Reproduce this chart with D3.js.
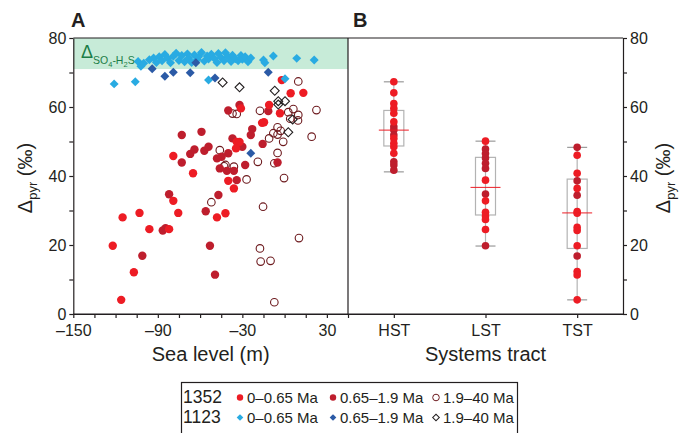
<!DOCTYPE html>
<html>
<head>
<meta charset="utf-8">
<script src="https://cdn.jsdelivr.net/npm/d3@7"></script>
<style>
  body { margin: 0; background: #fff; }
  svg { display: block; font-family: "Liberation Sans", Arial, Helvetica, sans-serif; }
  .axis text { font-size: 16px; fill: #231f20; }
  .axis path, .axis line { stroke: #231f20; stroke-width: 1.2; }
</style>
</head>
<body>
<svg id="chart"></svg>
<script>
"use strict";

/*
*  DATA
*/

// panel A: [sea level (m), delta pyr (permil)]
var site1352Young = [
  [-116, 4.1], [-107, 12.1], [-122, 19.8], [-96, 24.6], [-82, 24.6], [-115, 28], [-103, 29.3],
  [-75.5, 29.3], [-79, 32.8], [-65, 40.8], [-48, 28], [-42, 29.2], [-36, 36.4], [-40, 38.6],
  [-79, 45.8], [-34, 49.9], [-32, 49.9], [-34.5, 48], [-31, 59.6], [-11, 60.6], [-3.3, 58.2],
  [-14.6, 55.6], [-16, 55.4], [4.3, 64], [13.3, 64.1], [-2, 67.8]
];
var site1352Mid = [
  [-82, 34.7], [-47, 34.5], [-56, 29.8], [-53, 19.8], [-101, 16.9], [-49.4, 11.4], [-86.5, 24.2],
  [-84.5, 24.9], [-73, 51.9], [-59, 52.8], [-67, 46.4], [-64, 47.7], [-57, 47.3], [-54, 48.5],
  [-73, 43.9], [-32, 60.6], [-40, 59], [-11.6, 58.8], [-23, 53.6], [-24, 51.9], [-37, 50.9],
  [-30, 48.5], [-15.6, 49.3], [-40, 46.6], [-44.7, 45.6], [-48, 45.1], [-46, 42.2], [-41, 41.5],
  [-36, 41.5], [-28, 43.2], [-34, 38.8], [-5, 43.9]
];
var site1352Old = [
  [-52, 32.4], [-15.3, 31.1], [-17.5, 19], [-17, 15.2], [-10, 15.4], [10.2, 22], [-7.3, 3.4],
  [-27, 39], [-0.4, 39.4], [-46, 47.5], [-37, 58.1], [-34, 58], [-17.5, 58.9], [2.6, 58.5],
  [6.2, 59.4], [9.7, 57.7], [9.5, 56.1], [4, 56.6], [22.6, 59.1], [-5, 54.1], [-2.8, 53.1],
  [-8, 52.4], [-5, 52], [-1, 49.9], [-11, 50.9], [19.2, 51.4], [-19, 44.1], [-7.3, 43.7],
  [-42, 43.2], [-36, 42.7], [-43, 42.8], [-5, 46.7], [9.7, 67.4]
];
var site1123Young = [
  [-121, 66.7], [-106, 67.3], [-54, 67.8], [0.3, 68.2],
  [-104, 73.2], [-102, 71.8], [-100, 72.7], [-96, 73.7], [-93, 74.2], [-91, 72.9], [-89, 74.6],
  [-87, 73.4], [-85, 75.2], [-83, 74.1], [-81, 72.8], [-79, 74.7], [-77, 75.6], [-75, 73.5],
  [-73, 74.9], [-71, 73.1], [-69, 75.4], [-68, 74.2], [-66, 72.9], [-64, 75.1], [-62, 73.8],
  [-61, 74.6], [-59, 75.8], [-57, 73.3], [-55, 74.8], [-54, 73.9], [-52, 75.3], [-50, 74.1],
  [-48, 72.9], [-47, 75.5], [-45, 74.3], [-43, 73.4], [-42, 75.7], [-40, 74.6], [-38, 73.2],
  [-37, 75], [-35, 74], [-33, 73.4], [-31, 74.9], [-30, 73.8], [-28, 74.6], [-26, 73.1],
  [-24, 74.2], [-15, 73.6], [-14, 72.8], [-8, 74.8], [8.6, 74.1], [21, 73.6]
];
var site1123Mid = [
  [-94, 71.1], [-85, 68.9], [-79, 70.1], [-67, 69.9], [-63, 72.8], [-49.4, 68.4], [-11.6, 70.1], [-24, 46.6]
];
var site1123Old = [
  [-44, 67.1], [-32, 65.7], [-7, 64.7], [-4.5, 61.7], [0.3, 61.7], [-4.5, 60.7], [5.7, 56.4], [2.6, 52.7]
];

var bandRange = [71, 80];

// panel B
var tracts = ["HST", "LST", "TST"];
var tractBright = [
  [67.3, 64.1, 61, 59.6, 58.2, 55.7, 50.9, 49.5, 48.5, 46.6],
  [50.1, 38.8, 32.8, 29.5, 28.4, 27.4, 24.5],
  [46, 40.8, 36.4, 29.7, 29.2, 25.1, 24.2, 19.8, 12.3, 11.3, 4.1]
];
var tractDark = [
  [54.3, 53.3, 51.9, 44.1, 43.2, 41.7],
  [47.8, 46.5, 45.2, 43.7, 42.2, 34.8, 19.8],
  [48.3, 38.6, 34.4, 16.8]
];
var boxLow = [48.7, 28.7, 19];
var boxHigh = [59, 45.4, 39.1];
var boxMean = [53.3, 36.7, 29.3];
var whiskerLow = [41.2, 19.7, 4.1];
var whiskerHigh = [67.3, 50.1, 48.3];

var xTicksA = d3.range(-150, 46, 15);
var xLabelsA = [-150, -90, -30, 30];
var yTicks = d3.range(0, 81, 10);
var yLabels = [0, 20, 40, 60, 80];

/*
*  COLOURS
*/
var RED = "#ed1c24", DARKRED = "#be1e2d", MAROON = "#6d1a1e",
    LIGHTBLUE = "#29abe2", DARKBLUE = "#2b5aa6", INK = "#231f20";

/*
*  DRAW
*/
var width = 681, height = 433;
var plotTop = 38, plotBottom = 314, plotLeft = 73.3, plotMid = 348, plotRight = 623;

var svg = d3.select("#chart").attr("width", width).attr("height", height);

var y = d3.scaleLinear().domain([0, 80]).range([plotBottom, plotTop]);
var xA = d3.scaleLinear().domain([-150, 45]).range([plotLeft, plotMid]);
var xB = d3.scalePoint().domain(tracts).range([plotMid, plotRight]).padding(0.5);

// green band
svg.append("rect")
  .attr("x", plotLeft).attr("width", plotMid - plotLeft)
  .attr("y", y(bandRange[1])).attr("height", y(bandRange[0]) - y(bandRange[1]))
  .attr("fill", "#c7ebd8");

// axes
var fmt = function (d) { return d < 0 ? "\u2013" + Math.abs(d) : String(d); };

svg.append("g").attr("class", "axis").attr("transform", "translate(" + plotLeft + ",0)")
  .call(d3.axisLeft(y).tickValues(yTicks).tickSize(4).tickSizeOuter(0)
    .tickFormat(function (d) { return yLabels.indexOf(d) >= 0 ? d : ""; }));

svg.append("g").attr("class", "axis").attr("transform", "translate(" + plotRight + ",0)")
  .call(d3.axisRight(y).tickValues(yTicks).tickSize(4).tickSizeOuter(0)
    .tickFormat(function (d) { return yLabels.indexOf(d) >= 0 ? d : ""; }));

svg.append("g").attr("class", "axis").attr("transform", "translate(0," + plotBottom + ")")
  .call(d3.axisBottom(xA).tickValues(xTicksA).tickSize(4).tickSizeOuter(0)
    .tickFormat(function (d) { return xLabelsA.indexOf(d) >= 0 ? fmt(d) : ""; }))
  .selectAll("text").attr("dy", "0.95em");

svg.append("g").attr("class", "axis").attr("transform", "translate(0," + plotBottom + ")")
  .call(d3.axisBottom(xB).tickSize(4).tickSizeOuter(0))
  .selectAll("text").attr("dy", "0.95em");

// frame lines
svg.append("line").attr("x1", plotLeft).attr("x2", plotRight).attr("y1", plotTop).attr("y2", plotTop)
  .attr("stroke", INK).attr("stroke-width", 1.2);
svg.append("line").attr("x1", plotMid).attr("x2", plotMid).attr("y1", plotTop).attr("y2", plotBottom)
  .attr("stroke", INK).attr("stroke-width", 1.2);
svg.append("line").attr("x1", plotLeft).attr("x2", plotRight).attr("y1", plotBottom).attr("y2", plotBottom)
  .attr("stroke", INK).attr("stroke-width", 1.2);

// panel A points
var gA = svg.append("g");
function circles(data, fill, stroke, r) {
  gA.selectAll(null).data(data).enter().append("circle")
    .attr("cx", function (d) { return xA(d[0]); })
    .attr("cy", function (d) { return y(d[1]); })
    .attr("r", r)
    .attr("fill", fill)
    .attr("stroke", stroke)
    .attr("stroke-width", stroke === "none" ? 0 : 1.1);
}
var diamond = d3.symbol().type(d3.symbolSquare).size(40);
function diamonds(data, fill, stroke) {
  gA.selectAll(null).data(data).enter().append("path")
    .attr("d", diamond)
    .attr("transform", function (d) { return "translate(" + xA(d[0]) + "," + y(d[1]) + ") rotate(45)"; })
    .attr("fill", fill)
    .attr("stroke", stroke)
    .attr("stroke-width", stroke === "none" ? 0 : 1.1);
}
circles(site1352Old, "none", MAROON, 3.8);
circles(site1352Mid, DARKRED, "none", 4.2);
circles(site1352Young, RED, "none", 4.2);
diamonds(site1123Old, "none", INK);
diamonds(site1123Young, LIGHTBLUE, "none");
diamonds(site1123Mid, DARKBLUE, "none");

// band label, above the diamonds
var band = svg.append("text").attr("x", 81).attr("y", 58).attr("fill", "#1b7d47").attr("font-size", 18);
band.append("tspan").text("Δ");
band.append("tspan").attr("dy", 6).attr("font-size", 10.5).text("SO");
band.append("tspan").attr("dy", 2.5).attr("font-size", 7.5).text("4");
band.append("tspan").attr("dy", -2.5).attr("font-size", 10.5).text("-H");
band.append("tspan").attr("dy", 2.5).attr("font-size", 7.5).text("2");
band.append("tspan").attr("dy", -2.5).attr("font-size", 10.5).text("S");

// panel B boxes
var gB = svg.append("g");
tracts.forEach(function (t, i) {
  var cx = xB(t);
  gB.append("line").attr("x1", cx).attr("x2", cx)
    .attr("y1", y(whiskerLow[i])).attr("y2", y(whiskerHigh[i]))
    .attr("stroke", "#b3b3b3").attr("stroke-width", 1.2);
  [whiskerLow[i], whiskerHigh[i]].forEach(function (v) {
    gB.append("line").attr("x1", cx - 10).attr("x2", cx + 10)
      .attr("y1", y(v)).attr("y2", y(v))
      .attr("stroke", "#9a9a9a").attr("stroke-width", 1.2);
  });
  gB.append("rect").attr("x", cx - 10).attr("width", 20)
    .attr("y", y(boxHigh[i])).attr("height", y(boxLow[i]) - y(boxHigh[i]))
    .attr("fill", "none").attr("stroke", "#b3b3b3").attr("stroke-width", 1.2);
  gB.selectAll(null).data(tractDark[i]).enter().append("circle")
    .attr("cx", cx).attr("cy", function (d) { return y(d); }).attr("r", 3.8).attr("fill", DARKRED);
  gB.selectAll(null).data(tractBright[i]).enter().append("circle")
    .attr("cx", cx).attr("cy", function (d) { return y(d); }).attr("r", 3.8).attr("fill", RED);
  gB.append("line").attr("x1", cx - 15).attr("x2", cx + 15)
    .attr("y1", y(boxMean[i])).attr("y2", y(boxMean[i]))
    .attr("stroke", RED).attr("stroke-width", 1);
});

// titles
svg.append("text").attr("x", 71).attr("y", 27).attr("font-size", 20).attr("font-weight", "bold").attr("fill", INK).text("A");
svg.append("text").attr("x", 353).attr("y", 27).attr("font-size", 20).attr("font-weight", "bold").attr("fill", INK).text("B");

svg.append("text").attr("x", (plotLeft + plotMid) / 2).attr("y", 361).attr("text-anchor", "middle")
  .attr("font-size", 20).attr("fill", INK).text("Sea level (m)");
svg.append("text").attr("x", (plotMid + plotRight) / 2).attr("y", 361).attr("text-anchor", "middle")
  .attr("font-size", 20).attr("fill", INK).text("Systems tract");

function yTitle(x) {
  var t = svg.append("text").attr("transform", "translate(" + x + ",178) rotate(-90)")
    .attr("text-anchor", "middle").attr("font-size", 20).attr("fill", INK);
  t.append("tspan").text("Δ");
  t.append("tspan").attr("dy", 5).attr("font-size", 13).text("pyr");
  t.append("tspan").attr("dy", -5).text(" (‰)");
}
yTitle(32);
yTitle(670);

// legend
var lg = svg.append("g");
lg.append("rect").attr("x", 181.5).attr("y", 382.5).attr("width", 336).attr("height", 60)
  .attr("fill", "none").attr("stroke", INK).attr("stroke-width", 1.2);
var rows = [
  { site: "1352", y: 403, marks: [["circle", RED, "none"], ["circle", DARKRED, "none"], ["circle", "none", MAROON]] },
  { site: "1123", y: 423, marks: [["diamond", LIGHTBLUE, "none"], ["diamond", DARKBLUE, "none"], ["diamond", "none", INK]] }
];
var ages = ["0–0.65 Ma", "0.65–1.9 Ma", "1.9–40 Ma"];
var markX = [240, 333, 436];
var smallDiamond = d3.symbol().type(d3.symbolSquare).size(22);
rows.forEach(function (row) {
  lg.append("text").attr("x", 183).attr("y", row.y).attr("font-size", 17.5).attr("fill", INK).text(row.site);
  row.marks.forEach(function (m, j) {
    var my = row.y - 5.5;
    if (m[0] === "circle") {
      lg.append("circle").attr("cx", markX[j]).attr("cy", my).attr("r", m[2] === "none" ? 3.2 : 3.3)
        .attr("fill", m[1]).attr("stroke", m[2]).attr("stroke-width", m[2] === "none" ? 0 : 1);
    } else {
      lg.append("path").attr("d", smallDiamond)
        .attr("transform", "translate(" + markX[j] + "," + my + ") rotate(45)")
        .attr("fill", m[1]).attr("stroke", m[2]).attr("stroke-width", m[2] === "none" ? 0 : 1);
    }
    lg.append("text").attr("x", markX[j] + 7).attr("y", row.y).attr("font-size", 15)
      .attr("fill", INK).text(ages[j]);
  });
});
</script>
</body>
</html>
